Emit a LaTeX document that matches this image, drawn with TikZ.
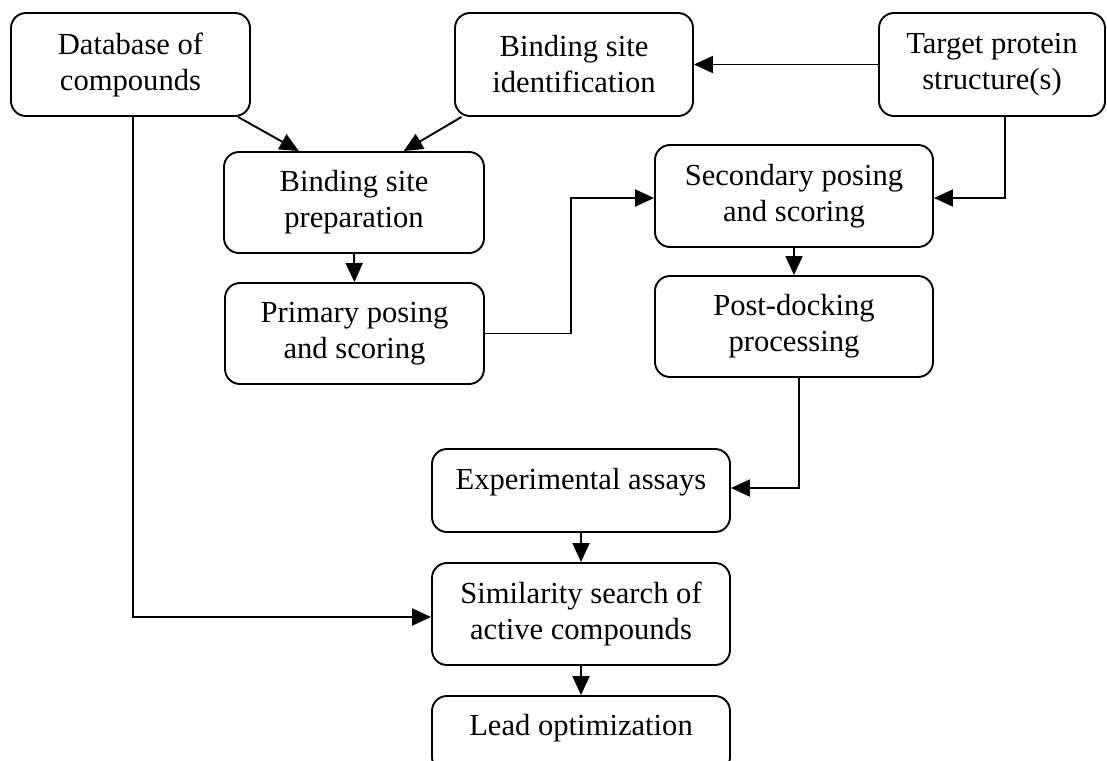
\documentclass[tikz,border=0pt]{standalone}
\usepackage{fontspec}
\setmainfont{Liberation Serif}
\usetikzlibrary{arrows.meta,calc}
\begin{document}
\begin{tikzpicture}[x=1pt,y=-1pt,
  box/.style={draw,line width=1.9pt,rounded corners=15pt,inner sep=0pt,align=center,
    font=\fontsize{30.6}{36}\selectfont},
  txt/.style={inner sep=0pt,font=\fontsize{30.6}{36}\selectfont},
  arr/.style={line width=1.9pt,-{Triangle[length=19pt,width=17pt]}}]
\useasboundingbox (0,0) rectangle (1107,760);
\node[box,minimum width=239pt,minimum height=103pt] (db) at (130.5,64.5) {Database of\\compounds};
\node[box,minimum width=238pt,minimum height=103pt] (bsi) at (574,64.5) {Binding site\\identification};
\node[box,minimum width=226pt,minimum height=103pt] (tps) at (992,64.5) {Target protein\\structure(s)};
\node[box,minimum width=260pt,minimum height=101pt] (bsp) at (354,202.5) {Binding site\\preparation};
\node[box,minimum width=259pt,minimum height=101pt] (pps) at (354.5,333.5) {Primary posing\\and scoring};
\node[box,minimum width=278pt,minimum height=102pt] (sps) at (794,196) {Secondary posing\\and scoring};
\node[box,minimum width=278pt,minimum height=101pt] (pdp) at (794,326.5) {Post-docking\\processing};
\node[box,minimum width=298pt,minimum height=83pt] (exp) at (581,490.5) {};
\node[txt] (expt) at (581,482) {Experimental assays};
\node[box,minimum width=298pt,minimum height=102pt] (sim) at (581,614) {Similarity search of\\active compounds};
\node[box,minimum width=298pt,minimum height=76pt] (lead) at (581,734) {};
\node[txt] (leadt) at (581,728) {Lead optimization};

\draw[arr] (db.-26) -- (bsp.137);
\draw[arr] (bsi.205) -- (bsp.46);
\draw[arr] (tps.west) -- (bsi.east);
\draw[arr] ($(tps.south)+(13,0)$) |- ($(sps.east)+(0,2)$);
\draw[arr] (bsp.south) -- (pps.north);
\draw[arr] (pps.east) -- ++(86,0) |- ($(sps.west)+(0,2)$);
\draw[arr] (sps.south) -- (pdp.north);
\draw[arr] ($(pdp.south)+(5,0)$) |- ($(exp.east)+(0,-2.5)$);
\draw[arr] (exp.south) -- (sim.north);
\draw[arr] (sim.south) -- (lead.north);
\draw[arr] ($(db.south)+(2.5,0)$) |- ($(sim.west)+(0,3)$);
\end{tikzpicture}
\end{document}
